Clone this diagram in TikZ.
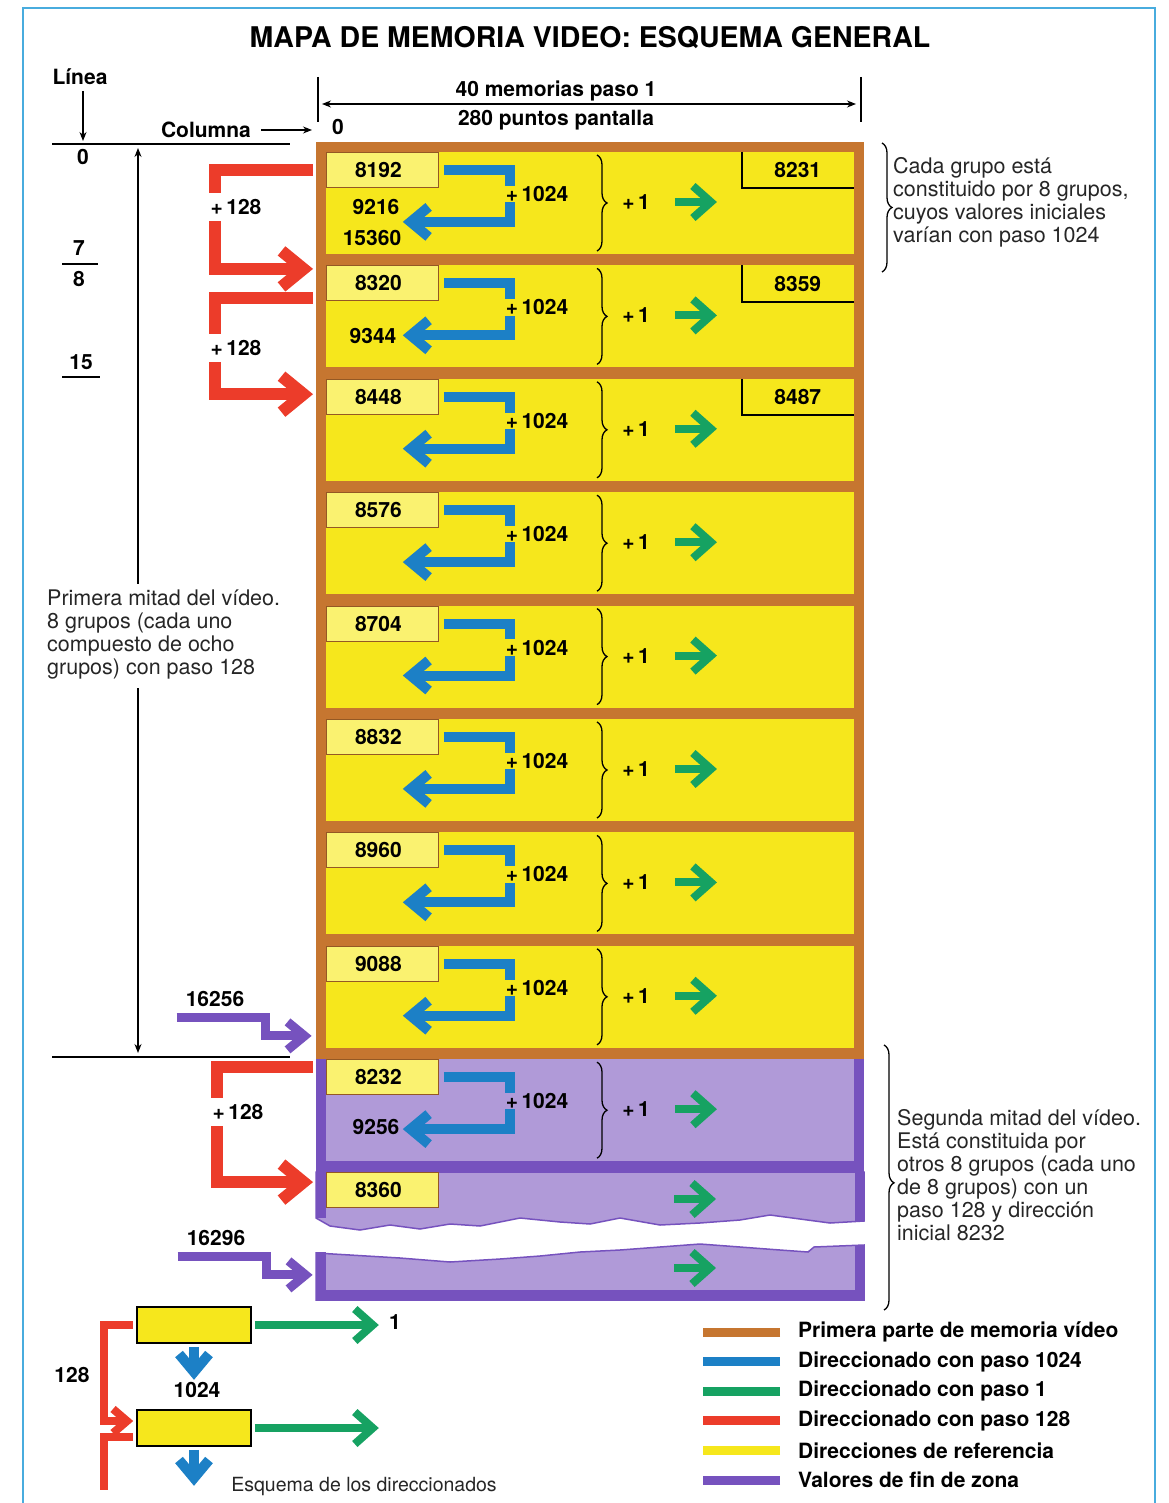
\documentclass[tikz,border=0pt]{standalone}
\usepackage{fontspec}
\setmainfont{TeX Gyre Heros}
\usetikzlibrary{arrows.meta,positioning,calc,decorations.pathreplacing}
\definecolor{framec}{RGB}{72,172,222}
\definecolor{brownc}{RGB}{198,118,48}
\definecolor{yellowc}{RGB}{246,231,28}
\definecolor{paleyellow}{RGB}{250,242,112}
\definecolor{bluec}{RGB}{28,128,198}
\definecolor{greenc}{RGB}{22,162,98}
\definecolor{redc}{RGB}{236,60,42}
\definecolor{purplec}{RGB}{118,82,190}
\definecolor{lavender}{RGB}{176,154,216}
\newcommand{\bnum}{\fontsize{21}{24}\selectfont\bfseries}
\newcommand{\ntext}{\fontsize{21.5}{23}\selectfont}

\begin{document}
\begin{tikzpicture}[x=1pt,y=-1pt,>=Stealth]
  \tikzstyle{lbl}=[font=\bnum,inner sep=1pt]
  \tikzstyle{note}=[font=\ntext,align=left,anchor=west,inner sep=0pt,text=black!85]
  \tikzstyle{startbox}=[lbl,draw=brownc!75!black,line width=0.8pt,fill=paleyellow,minimum width=112pt,minimum height=35pt,inner sep=0pt,anchor=north west]
  \tikzstyle{endbox}=[lbl,fill=yellowc,minimum width=112pt,minimum height=36pt,inner sep=0pt,anchor=north east]
  \tikzstyle{schembox}=[draw,line width=1.6pt,fill=yellowc,minimum width=114pt,minimum height=36pt]
  \tikzstyle{bracedec}=[decorate,decoration={brace,amplitude=10pt},line width=1.3pt]
  \tikzstyle{thinarr}=[line width=1.1pt,>={Stealth[length=9pt,width=7pt]}]
  \tikzstyle{bluearr}=[bluec,line width=10pt,-{Straight Barb[length=18pt,width=30pt,sharp]}]
  \tikzstyle{greenarr}=[greenc,line width=8pt,-{Straight Barb[length=18pt,width=32pt,sharp]}]
  \tikzstyle{redarr}=[redc,line width=12pt,-{Straight Barb[length=22pt,width=36pt,sharp]}]
  \tikzstyle{redthin}=[redc,line width=8pt,-{Straight Barb[length=14pt,width=24pt,sharp]}]
  \tikzstyle{purplearr}=[purplec,line width=9pt,-{Straight Barb[length=17pt,width=28pt,sharp]}]
  \useasboundingbox (0,0) rectangle (1168,1503);
  \draw[framec,line width=2pt] (23,1503) -- (23,8) -- (1155,8) -- (1155,1503);
  \node[font=\fontsize{28.5}{32}\selectfont\bfseries] (title) at (590,38) {MAPA DE MEMORIA VIDEO: ESQUEMA GENERAL};

  \node[lbl] (linea) at (80,77) {Línea};
  \draw[thinarr,->] (83,91) -- (83,141);
  \draw[line width=1.3pt] (52,144) -- (290,144);
  \node[lbl] (z0) at (83,157) {0};
  \node[lbl] (col) at (206,130) {Columna};
  \draw[thinarr,->] ([xshift=9pt]col.east) -- (312,130);
  \node[lbl] (c0) at (338,127) {0};
  \draw[line width=1.3pt] (318,77) -- (318,122);
  \draw[line width=1.3pt] (861,77) -- (861,122);
  \draw[thinarr,<->] (322,104) -- (856,104);
  \node[lbl] (mem) at (556,91) {40 memorias paso 1};
  \node[lbl] (pts) at (556,120) {280 puntos pantalla};
  \node[lbl] (m7) at (79,248) {7};
  \draw[line width=1.3pt] (62,264) -- (98,264);
  \node[lbl] (m8) at (79,279) {8};
  \node[lbl] (m15) at (81,362) {15};
  \draw[line width=1.3pt] (62,377) -- (100,377);
  \node[note] (primera) at (47,635) {Primera mitad del vídeo.\\8 grupos (cada uno\\compuesto de ocho\\grupos) con paso 128};
  \draw[thinarr,<-] (138,148) -- (138,584);
  \draw[thinarr,->] (138,688) -- (138,1053);
  \draw[line width=1.3pt] (52,1057) -- (290,1057);

  \fill[brownc] (316,142) rectangle (864,1059);
  \fill[purplec] (316,1059) rectangle (864,1172);
  \foreach \i/\s/\c in {0/8192/yellowc,1/8320/yellowc,2/8448/yellowc,3/8576/yellowc,4/8704/yellowc,5/8832/yellowc,6/8960/yellowc,7/9088/yellowc,8/8232/lavender}{
    \pgfmathsetmacro\T{152+113.4*\i}
    \fill[\c] (326,\T) rectangle (854,\T+102);
    \node[startbox] (s\i) at (326,\T) {\s\hspace*{8pt}};
    \draw[bluearr] ([xshift=5pt]s\i.east) -- ++(66,0) -- ++(0,52) -- ++(-107,0);
    \node[lbl,fill=\c,inner xsep=3pt,inner ysep=0.5pt] (k\i) at (537,\T+42) {+\,1024};
    \draw[bracedec] (597,\T+3) -- (597,\T+99);
    \node[lbl] (u\i) at (636,\T+50) {+\,1};
    \draw[greenarr] ([xshift=24pt]u\i.east) -- ++(42,0);
  }
  \foreach \i/\e in {0/8231,1/8359,2/8487}{
    \node[endbox] (e\i) at (854,152+113.4*\i) {\e};
    \draw[line width=1.8pt] (e\i.north west) |- (e\i.south east);
  }
  \node[lbl] (n0) at (376,207) {9216};
  \node[lbl] (n1) at (372,238) {15360};
  \node[lbl] (n2) at (373,336) {9344};
  \node[lbl] (n3) at (376,1127) {9256};

  \filldraw[fill=lavender,draw=purplec,line width=1.5pt] (316,1172) -- (864,1172) -- (864,1221) -- (830,1223) -- (800,1219) -- (770,1215) -- (740,1220) -- (700,1223) -- (660,1225) -- (620,1218) -- (590,1224) -- (560,1222) -- (520,1218) -- (480,1226) -- (450,1224) -- (420,1229) -- (390,1225) -- (360,1230) -- (330,1226) -- (316,1218) -- cycle;
  \fill[purplec] (316,1165) rectangle (326,1218);
  \fill[purplec] (855,1165) rectangle (864,1221);
  \node[startbox] (s9) at (326,1172) {8360\hspace*{8pt}};
  \coordinate (g9) at (674,1199);
  \draw[greenarr] (g9) -- ++(42,0);
  \filldraw[fill=lavender,draw=purplec,line width=1.5pt] (316,1253) -- (350,1255) -- (400,1258) -- (450,1262) -- (500,1259) -- (540,1256) -- (580,1252) -- (620,1250) -- (660,1247) -- (700,1244) -- (740,1247) -- (780,1250) -- (808,1252) -- (814,1247) -- (864,1245) -- (864,1300) -- (316,1300) -- cycle;
  \fill[purplec] (316,1252) rectangle (326,1300);
  \fill[purplec] (855,1245) rectangle (864,1300);
  \fill[purplec] (316,1290) rectangle (864,1300);
  \coordinate (g10) at (674,1268);
  \draw[greenarr] (g10) -- ++(42,0);

  \draw[redarr] ([xshift=-13pt]s0.west) -- ++(-98,0) -- ++(0,99) -- ++(98,0);
  \node[lbl,fill=white,inner xsep=3pt,inner ysep=6pt] (r0) at (236,207) {+\,128};
  \draw[redarr] ([xshift=-13pt,yshift=3pt]s1.south west) -- ++(-98,0) -- ++(0,96) -- ++(98,0);
  \node[lbl,fill=white,inner xsep=3pt,inner ysep=6pt] (r1) at (236,348) {+\,128};
  \draw[redarr] ([xshift=-13pt,yshift=10pt]s8.west) -- ++(-96,0) -- ++(0,115) -- ++(96,0);
  \node[lbl,fill=white,inner xsep=3pt,inner ysep=6pt] (r2) at (238,1112) {+\,128};
  \node[lbl] (v1) at (215,999) {16256};
  \draw[purplearr] ([xshift=-8pt,yshift=-10pt]v1.south west) -- ++(89,0) -- ++(0,18) -- ++(46,0);
  \node[lbl] (v2) at (216,1238) {16296};
  \draw[purplearr] ([xshift=-8pt,yshift=-10pt]v2.south west) -- ++(89,0) -- ++(0,18) -- ++(46,0);

  \draw[bracedec] (882,143) -- (882,272);
  \node[note] (cada) at (893,202) {Cada grupo está\\constituido por 8 grupos,\\cuyos valores iniciales\\varían con paso 1024};
  \draw[bracedec,decoration={brace,amplitude=10pt,aspect=0.52}] (884,1045) -- (884,1310);
  \node[note] (segunda) at (897,1175) {Segunda mitad del vídeo.\\Está constituida por\\otros 8 grupos (cada uno\\de 8 grupos) con un\\paso 128 y dirección\\inicial 8232};

  \node[schembox] (b1) at (194,1325) {};
  \node[schembox] (b2) at (194,1428) {};
  \node[lbl] (one) at (395,1322) {1};
  \draw[greenarr] ([xshift=3pt]b1.east) -- ++(124,0);
  \draw[greenarr] ([xshift=3pt]b2.east) -- ++(124,0);
  \draw[bluearr] ([yshift=-3pt]b1.south) -- ++(0,33);
  \node[lbl] (kk) at (197,1390) {1024};
  \draw[bluearr] ([yshift=-3pt]b2.south) -- ++(0,36);
  \node[lbl] (d128) at (72,1375) {128};
  \draw[redthin] ([xshift=-3pt]b1.west) -- ++(-29,0) -- ++(0,96) -- ++(29,0);
  \draw[redc,line width=8pt] ([xshift=-3pt,yshift=-9pt]b2.west) -- ++(-29,0) -- ++(0,53);
  \node[note,anchor=center,font=\fontsize{19.5}{23}\selectfont] (esq) at (364,1486) {Esquema de los direccionados};

  \foreach \c/\t [count=\j] in {brownc/Primera parte de memoria vídeo,bluec/Direccionado con paso 1024,greenc/Direccionado con paso 1,redc/Direccionado con paso 128,yellowc/Direcciones de referencia,purplec/Valores de fin de zona}{
    \node[lbl,anchor=west] (leg\j) at (797,1302.4+29.6*\j) {\t};
    \draw[\c,line width=9pt] ([xshift=-17pt]leg\j.west) -- ++(-77,0);
  }
\end{tikzpicture}
\end{document}
